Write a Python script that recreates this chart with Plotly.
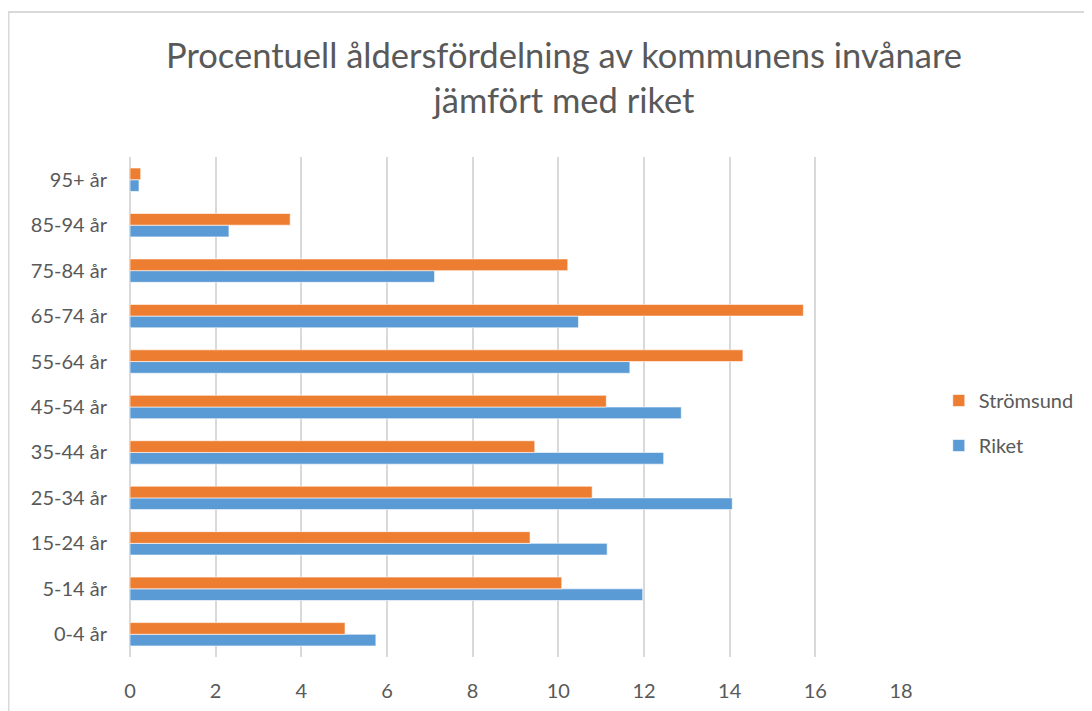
import plotly.graph_objects as go

categories = ["0-4 år", "5-14 år", "15-24 år", "25-34 år", "35-44 år", "45-54 år",
              "55-64 år", "65-74 år", "75-84 år", "85-94 år", "95+ år"]
riket = [5.74, 11.97, 11.14, 14.06, 12.46, 12.87, 11.67, 10.47, 7.11, 2.31, 0.21]
stromsund = [5.02, 10.08, 9.34, 10.79, 9.45, 11.12, 14.31, 15.72, 10.22, 3.74, 0.25]
x_ticks = [0, 2, 4, 6, 8, 10, 12, 14, 16, 18]

FONT = "Lato"
GREY = "#595959"

fig = go.Figure()
fig.add_trace(go.Bar(y=categories, x=riket, name="Riket", orientation="h",
                     legendgroup="r", legendrank=2,
                     marker=dict(color="#5B9BD5", line=dict(color="rgba(255,255,255,0.6)", width=1))))
fig.add_trace(go.Bar(y=categories, x=stromsund, name="Strömsund", orientation="h",
                     legendgroup="s", legendrank=1,
                     marker=dict(color="#ED7D31", line=dict(color="rgba(255,255,255,0.6)", width=1))))

fig.update_layout(
    width=1092, height=711,
    margin=dict(l=122, r=199, t=149, b=62),
    paper_bgcolor="white", plot_bgcolor="white",
    barmode="group", bargap=0.485, bargroupgap=0,
    font=dict(family=FONT, color=GREY, size=20),
    title=dict(text="Procentuell åldersfördelning av kommunens invånare<br>jämfört med riket",
               x=556 / 1092, xanchor="center", xref="container",
               y=1 - 60 / 711, yanchor="middle", yref="container",
               font=dict(family=FONT, size=34.5, color=GREY)),
    legend=dict(x=1.049, xanchor="left", y=0.468, yanchor="middle",
                traceorder="grouped", tracegroupgap=16,
                font=dict(family=FONT, size=20, color=GREY),
                itemwidth=30, bgcolor="rgba(0,0,0,0)"),
    xaxis=dict(range=[0, 18], tickvals=x_ticks, showgrid=True, gridcolor="#d9d9d9",
               gridwidth=1.5, zeroline=True, zerolinecolor="#d9d9d9", zerolinewidth=1.5,
               showline=False, ticks="", ticklabelstandoff=20,
               tickfont=dict(family=FONT, size=20, color=GREY), fixedrange=True),
    yaxis=dict(categoryorder="array", categoryarray=categories, showgrid=False,
               showline=False, ticks="", ticklabelstandoff=22,
               tickfont=dict(family=FONT, size=20, color=GREY), fixedrange=True),
    shapes=[dict(type="rect", xref="paper", yref="paper",
                 x0=(8.5 - 130) / 771, x1=1.4, y0=-0.3, y1=(657 - 12) / 500,
                 line=dict(color="#d9d9d9", width=2), fillcolor="rgba(0,0,0,0)", layer="below")],
    showlegend=True,
)

fig.write_html("out.html")
